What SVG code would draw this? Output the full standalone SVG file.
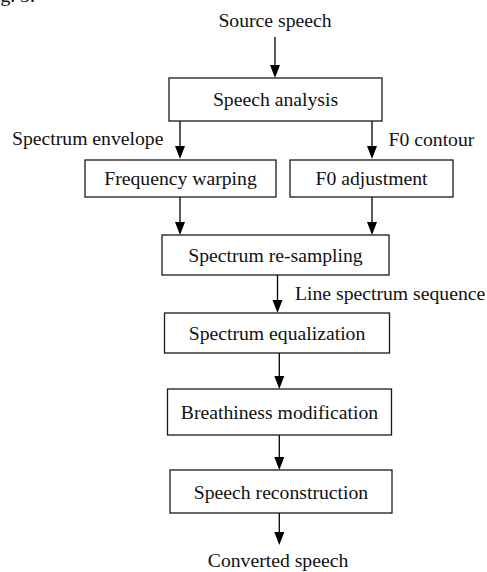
<svg xmlns="http://www.w3.org/2000/svg" width="487" height="572" viewBox="0 0 487 572">
  <defs>
    <marker id="arrow" markerWidth="10" markerHeight="13" refX="5" refY="13" orient="auto-start-reverse" markerUnits="userSpaceOnUse" viewBox="0 0 10 13">
      <polygon points="0,0 10,0 5,13" fill="#000"/>
    </marker>
    <style>
      .box { fill: #fff; stroke: #1a1a1a; stroke-width: 1.3; }
      .lbl { font-family: "Liberation Serif", "Times New Roman", serif; font-size: 19.7px; fill: #111; }
      .mid { text-anchor: middle; }
      .edge { stroke: #000; stroke-width: 1.3; fill: none; }
    </style>
  </defs>
  <rect width="487" height="572" fill="#fff"/>

  <text class="lbl" x="-16" y="1.5">Fig. 3.</text>

  <g id="connectors">
    <line class="edge" x1="275" y1="37" x2="275" y2="65"/>
    <polygon points="270,65 280,65 275,78" fill="#000"/>
    <line class="edge" x1="180" y1="121" x2="180" y2="146"/>
    <polygon points="175,146 185,146 180,159" fill="#000"/>
    <line class="edge" x1="372" y1="121" x2="372" y2="146"/>
    <polygon points="367,146 377,146 372,159" fill="#000"/>
    <line class="edge" x1="180" y1="197" x2="180" y2="222"/>
    <polygon points="175,222 185,222 180,235" fill="#000"/>
    <line class="edge" x1="372" y1="197" x2="372" y2="222"/>
    <polygon points="367,222 377,222 372,235" fill="#000"/>
    <line class="edge" x1="277.5" y1="275" x2="277.5" y2="300"/>
    <polygon points="272.5,300 282.5,300 277.5,313" fill="#000"/>
    <line class="edge" x1="279.3" y1="353" x2="279.3" y2="376"/>
    <polygon points="274.3,376 284.3,376 279.3,389" fill="#000"/>
    <line class="edge" x1="279.3" y1="435" x2="279.3" y2="457"/>
    <polygon points="274.3,457 284.3,457 279.3,470" fill="#000"/>
    <line class="edge" x1="279.3" y1="513" x2="279.3" y2="532"/>
    <polygon points="274.3,532 284.3,532 279.3,545" fill="#000"/>
  </g>

  <g id="source">
    <text class="lbl mid" x="275" y="27">Source speech</text>
  </g>
  <g id="analysis">
    <rect class="box" x="169" y="78" width="213" height="43"/>
    <text class="lbl mid" x="275.5" y="105.5">Speech analysis</text>
  </g>
  <g id="label-envelope">
    <text class="lbl" x="12" y="145">Spectrum envelope</text>
  </g>
  <g id="label-f0">
    <text class="lbl" x="388.5" y="146">F0 contour</text>
  </g>
  <g id="warping">
    <rect class="box" x="85" y="160" width="191" height="37"/>
    <text class="lbl mid" x="180.5" y="185">Frequency warping</text>
  </g>
  <g id="f0adj">
    <rect class="box" x="290" y="160" width="163" height="37"/>
    <text class="lbl mid" x="371.5" y="185">F0 adjustment</text>
  </g>
  <g id="resampling">
    <rect class="box" x="162" y="235" width="227" height="40"/>
    <text class="lbl mid" x="275.5" y="261.5">Spectrum re-sampling</text>
  </g>
  <g id="label-line">
    <text class="lbl" x="295" y="299.5">Line spectrum sequence</text>
  </g>
  <g id="equalization">
    <rect class="box" x="164.5" y="313" width="225" height="40"/>
    <text class="lbl mid" x="277" y="339.5">Spectrum equalization</text>
  </g>
  <g id="breathiness">
    <rect class="box" x="167.5" y="389" width="224" height="46"/>
    <text class="lbl mid" x="279.5" y="419">Breathiness modification</text>
  </g>
  <g id="reconstruction">
    <rect class="box" x="170" y="470" width="222" height="43"/>
    <text class="lbl mid" x="281" y="498.5">Speech reconstruction</text>
  </g>
  <g id="converted">
    <text class="lbl mid" x="278" y="567">Converted speech</text>
  </g>
</svg>
